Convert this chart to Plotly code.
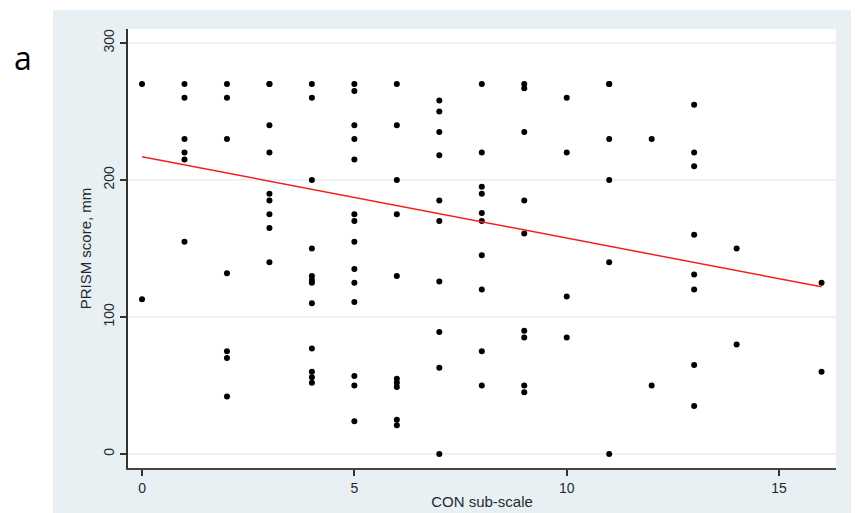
import plotly.graph_objects as go

# CON sub-scale (x) and PRISM score (y) values
con_x = (
    [0] * 2 + [1] * 6 + [2] * 7 + [3] * 9 + [4] * 12 + [5] * 14 + [6] * 10
    + [7] * 10 + [8] * 10 + [9] * 9 + [10] * 4 + [11] * 6 + [12] * 2
    + [13] * 8 + [14] * 2 + [16] * 2
)
prism_y = (
    [270, 113]
    + [270, 260, 230, 220, 215, 155]
    + [270, 260, 230, 132, 75, 70, 42]
    + [270, 270, 240, 220, 190, 185, 175, 165, 140]
    + [270, 260, 200, 150, 130, 127, 125, 110, 77, 60, 56, 52]
    + [270, 265, 240, 230, 215, 175, 170, 155, 135, 125, 111, 57, 50, 24]
    + [270, 240, 200, 175, 130, 55, 52, 49, 25, 21]
    + [258, 250, 235, 218, 185, 170, 126, 89, 63, 0]
    + [270, 220, 195, 190, 176, 170, 145, 120, 75, 50]
    + [270, 267, 235, 185, 161, 90, 85, 50, 45]
    + [260, 220, 115, 85]
    + [270, 270, 230, 200, 140, 0]
    + [230, 50]
    + [255, 220, 210, 160, 131, 120, 65, 35]
    + [150, 80]
    + [125, 60]
)

# fitted regression line (end points)
fit_x = [0, 16]
fit_y = [217, 122]

x_ticks = [0, 5, 10, 15]
y_ticks = [0, 100, 200, 300]

fig = go.Figure()
fig.add_trace(go.Scatter(
    x=con_x, y=prism_y, mode="markers",
    marker=dict(color="black", size=6, symbol="circle"),
    showlegend=False, hoverinfo="x+y",
))
fig.add_trace(go.Scatter(
    x=fit_x, y=fit_y, mode="lines",
    line=dict(color="#f02020", width=1.5),
    showlegend=False,
))

# page has an 8px body margin, so the figure is 8px smaller than the window
W, H = 851, 505
L, R, T, B = 120, 23, 21, 45
pw, ph = W - L - R, H - T - B

def px2paper_x(px):
    return (px - L) / pw

def px2paper_y(py):
    return (H - B - py) / ph

GRAY = "#e9f0f3"

# white strips around the light blue-grey graph region
for (x0, x1, y0, y1) in [(-5, 45, -5, H + 5), (845, W + 5, -5, H + 5), (-5, W + 5, -5, 2)]:
    fig.add_shape(
        type="rect", xref="paper", yref="paper", layer="below",
        x0=px2paper_x(x0), x1=px2paper_x(x1),
        y0=px2paper_y(y1), y1=px2paper_y(y0),
        fillcolor="white", line=dict(width=0),
    )

fig.add_annotation(
    text="a", xref="paper", yref="paper",
    x=px2paper_x(15), y=px2paper_y(49),
    showarrow=False, font=dict(size=32, color="black", family="Open Sans, Liberation Sans, sans-serif"),
    xanchor="center", yanchor="middle",
)

fig.update_layout(
    width=W, height=H,
    margin=dict(l=L, r=R, t=T, b=B, pad=0, autoexpand=False),
    paper_bgcolor=GRAY,
    plot_bgcolor="white",
    font=dict(family="Liberation Sans, Arial, sans-serif", color="#1e2a30"),
)

fig.update_xaxes(
    range=[-0.33, 16.34],
    tickvals=x_ticks, ticktext=[str(v) for v in x_ticks],
    ticks="outside", ticklen=6, tickwidth=1.5, tickcolor="#333333",
    showline=True, linecolor="#444444", linewidth=2,
    showgrid=False, zeroline=False, automargin=False,
    tickfont=dict(size=14),
    title=dict(text="CON sub-scale", font=dict(size=15), standoff=2),
)
fig.update_yaxes(
    range=[-10.2, 310.2],
    tickvals=y_ticks, ticktext=[str(v) for v in y_ticks],
    tickangle=-90,
    ticks="outside", ticklen=6, tickwidth=1.5, tickcolor="#333333",
    showline=True, linecolor="#333333", linewidth=2,
    showgrid=True, gridcolor="#edf3f3", gridwidth=1.5,
    zeroline=False, automargin=False,
    tickfont=dict(size=14),
    title=dict(text="PRISM score, mm", font=dict(size=15), standoff=6),
)

fig.write_html("out.html")
